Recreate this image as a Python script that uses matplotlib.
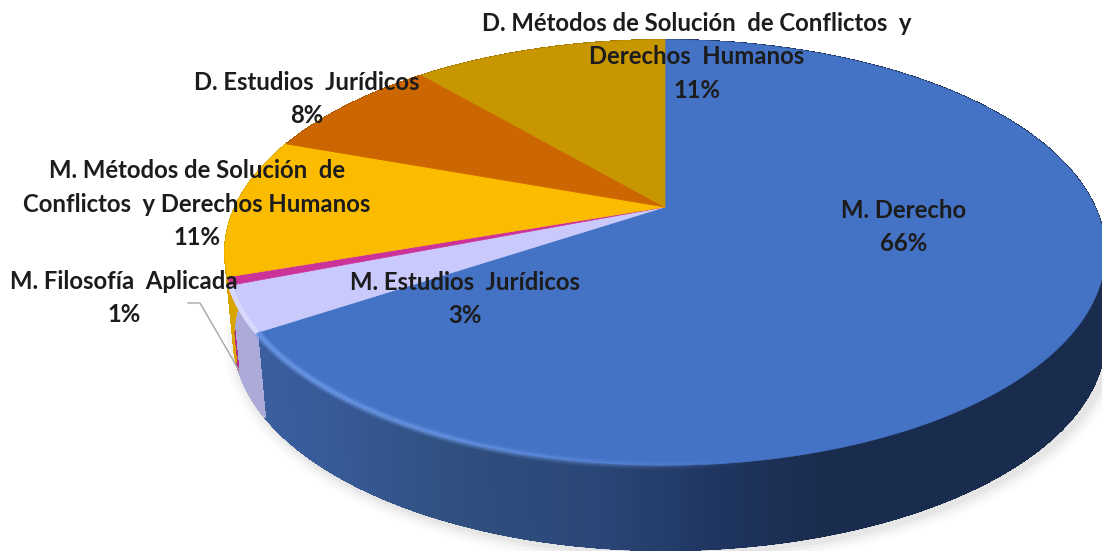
import numpy as np
import matplotlib
matplotlib.use('Agg')
import matplotlib.pyplot as plt
from matplotlib.collections import PolyCollection, LineCollection
from matplotlib.colors import to_rgb

# Data
categories = ['M. Derecho', 'M. Estudios  Jurídicos', 'M. Filosofía  Aplicada',
              'M. Métodos de Solución  de\nConflictos  y Derechos Humanos',
              'D. Estudios  Jurídicos',
              'D. Métodos de Solución  de Conflictos  y\nDerechos  Humanos']
values = [65.8, 3.4, 0.6, 10.6, 8.2, 11.4]
top_colors = ['#4472c4', '#c9c9fb', '#cc3399', '#fbbc00', '#cc6600', '#c89600']
wall_colors = ['#2e4d80', '#abaad8', '#b02c85', '#d9a300', '#a85400', '#a07800']
label_x = [904, 465, 124, 197, 307, 697]
label_y = [227, 299, 298, 204, 99, 57]

# Projection of the pie (pixels of the picture)
cx, cy = 665, 207
a, b, k = 430, 203, 0.214
depth = 85


def project(pct):
    t = np.radians(np.asarray(pct) * 3.6)
    X, Y = np.sin(t), np.cos(t)
    w = 1 + k * Y
    return cx + a * X / w, cy - b * Y / w


def lower(x):
    # the bottom disc pulls in a little on the left side only
    return np.where(x < cx, x + 8 * (cx - x) / (cx - 255), x)


def mix(xs, stops, cols):
    rgb = np.array([to_rgb(c) for c in cols])
    return np.column_stack([np.interp(xs, stops, rgb[:, i]) for i in range(3)])


fig = plt.figure(figsize=(11.02, 5.51), dpi=100)
ax = fig.add_axes([0, 0, 1, 1])
ax.set_xlim(0, 1102)
ax.set_ylim(551, 0)
ax.axis('off')

edges = np.concatenate([[0], np.cumsum(values)])

# Soft shadow under the wall
p = np.linspace(0, 72, 300)
sx, sy = project(p)
for lw, alpha in zip([20, 15, 10, 6], [0.025, 0.03, 0.04, 0.05]):
    ax.plot(lower(sx) + 4, sy + depth + 2, color='#555555', lw=lw, alpha=alpha, zorder=1,
            solid_capstyle='round')

# Side wall, in thin strips so the shading can change along it
blue_stops = [255, 330, 450, 600, 720, 820, 1102]
blue_cols = ['#3a5f9f', '#375a98', '#30507f', '#2a4676', '#1f3560', '#1a2c4e', '#1a2c4e']
for i in range(len(values)):
    p = np.linspace(edges[i], edges[i + 1], max(int(values[i] * 8), 4))
    x, y = project(p)
    xb = lower(x)
    quads = [[(x[j], y[j]), (x[j + 1], y[j + 1]), (xb[j + 1], y[j + 1] + depth), (xb[j], y[j] + depth)]
             for j in range(len(p) - 1)]
    mid = (x[:-1] + x[1:]) / 2
    if i == 0:
        cols = mix(mid, blue_stops, blue_cols)
    else:
        cols = [wall_colors[i]] * len(quads)
    ax.add_collection(PolyCollection(quads, facecolors=cols, edgecolors=cols, linewidths=0.6,
                                     antialiaseds=False, zorder=2))
    # smooth the lower edge
    segs = [[(xb[j], y[j] + depth), (xb[j + 1], y[j + 1] + depth)] for j in range(len(p) - 1)]
    ax.add_collection(LineCollection(segs, colors=cols, linewidths=1.2, zorder=2))

# Top face
for i in range(len(values)):
    p = np.linspace(edges[i], edges[i + 1], max(int(values[i] * 8), 4))
    x, y = project(p)
    ax.fill(np.concatenate([[cx], x]), np.concatenate([[cy], y]), color=top_colors[i], lw=0.5, zorder=3)

# Light bevel along the front rim
p = np.linspace(30, edges[1], 200)
x, y = project(p)
segs = np.column_stack([x, y]).reshape(-1, 1, 2)
segs = np.concatenate([segs[:-1], segs[1:]], axis=1)
fade = np.interp(x[:-1], [260, 450, 760], [1, 0.75, 0])
for lw, alpha in zip([6, 3], [0.35, 0.7]):
    rim = np.column_stack([mix(x[:-1], [0, 1102], ['#6f9bea', '#6f9bea']), fade * alpha])
    ax.add_collection(LineCollection(segs, colors=rim, linewidths=lw, zorder=4))
p = np.linspace(edges[1], edges[2], 20)
x, y = project(p)
ax.plot(x, y, color='#d8d8fd', lw=3.5, zorder=4, solid_capstyle='butt')

# Leader line of the small slice
ax.plot([188, 200, 240], [303, 303, 372], color='#a6a6a6', lw=1, zorder=5)

# Labels
for name, v, lx, ly in zip(categories, values, label_x, label_y):
    ax.text(lx, ly, f'{name}\n{v:.0f}%', ha='center', va='center', fontsize=17.2,
            family='Lato', fontweight='bold', color='#1c1c1c', linespacing=1.55, zorder=6)

fig.savefig('out.png', dpi=100)
